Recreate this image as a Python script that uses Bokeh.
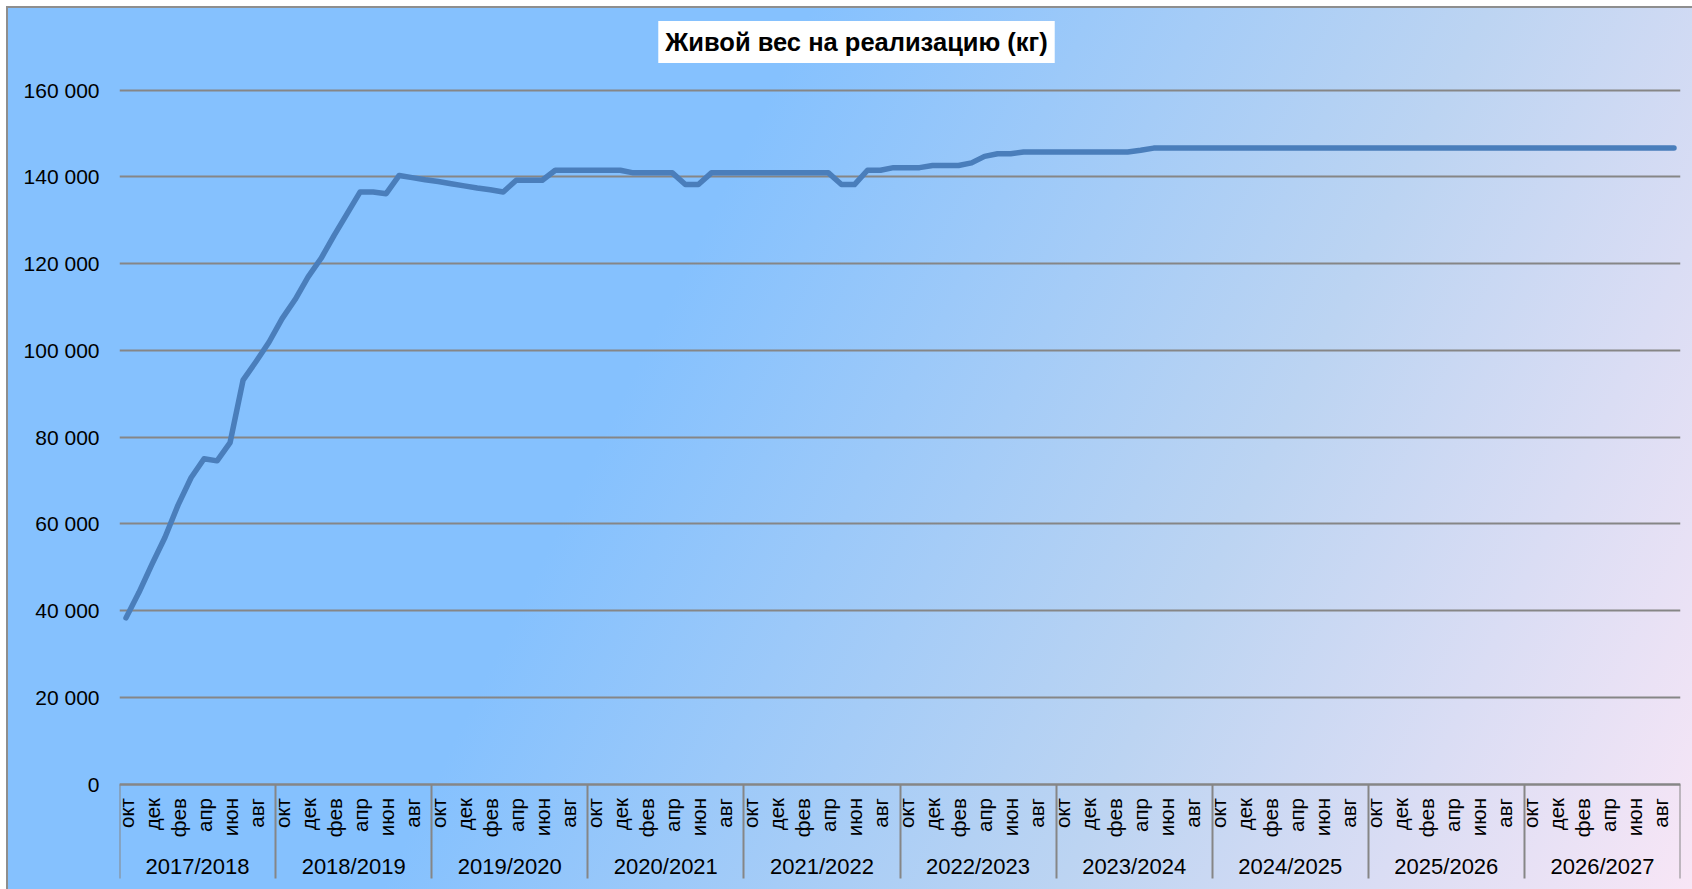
import math
from bokeh.plotting import figure
from bokeh.models import Range1d, LinearAxis, FixedTicker, Label, ColumnDataSource
from bokeh.core.properties import value
from bokeh.embed import file_html
from bokeh.resources import INLINE

title = "Живой вес на реализацию (кг)"
years = ["2017/2018", "2018/2019", "2019/2020", "2020/2021", "2021/2022",
         "2022/2023", "2023/2024", "2024/2025", "2025/2026", "2026/2027"]
months = ["окт", "ноя", "дек", "янв", "фев", "мар", "апр", "май", "июн", "июл", "авг", "сен"]

y2017 = [38300, 44200, 50700, 56900, 64300, 70600, 75000, 74500, 78700, 93100, 97400, 101900]
y2018 = [107300, 111700, 116900, 121200, 126500, 131500, 136500, 136500, 136100, 140300, 139800, 139300]
y2019 = [138900, 138400, 137900, 137400, 137000, 136500, 139200, 139200, 139200, 141500, 141500, 141500]
y2020 = [141500, 141500, 141500, 140900, 140900, 140900, 140900, 138200, 138200, 140900, 140900, 140900]
y2021 = [140900, 140900, 140900, 140900, 140900, 140900, 140900, 138200, 138200, 141500, 141500, 142100]
y2022 = [142100, 142100, 142600, 142600, 142600, 143200, 144700, 145300, 145300, 145700, 145700, 145700]
y2023 = [145700, 145700, 145700, 145700, 145700, 145700, 146100, 146600, 146600, 146600, 146600, 146600]
y2024 = [146600] * 12
y2025 = [146600] * 12
y2026 = [146600] * 12

values = y2017 + y2018 + y2019 + y2020 + y2021 + y2022 + y2023 + y2024 + y2025 + y2026
n = len(values)
xs = [i + 0.5 for i in range(n)]
y_ticks = list(range(0, 160001, 20000))
y_max = 160000

FONT = "Liberation Sans"
GRID = "#868686"

# layout in pixels (figure-relative); the frame spans the whole height
W, H = 1684, 881
top_px, zero_px = 81.5, 775.5
per_px = y_max / (zero_px - top_px)
y_lo = -(H - zero_px) * per_px
y_hi = y_max + top_px * per_px
year_axis_y = -(835.5 - zero_px) * per_px

p = figure(width=W, height=H, output_backend="svg", toolbar_location=None,
           x_range=Range1d(0, n), y_range=Range1d(y_lo, y_hi),
           x_axis_location=None, y_axis_location=None,
           min_border_left=111, min_border_right=12, min_border_top=0,
           min_border_bottom=0)
p.title.text = ""
p.outline_line_color = None
p.background_fill_alpha = 0
p.border_fill_alpha = 0
p.styles = {
    "background": "linear-gradient(116deg, #85C1FE 0%, #85C1FE 38%, #BCD4F2 70%, #F8E6F6 100%)",
    "outline": "2px solid #8E8E8E",
    "margin-left": "8px",
    "margin-top": "8px",
}

# y axis
yax = LinearAxis(ticker=FixedTicker(ticks=y_ticks),
                 major_label_overrides={v: f"{v:,}".replace(",", " ") for v in y_ticks})
yax.axis_line_color = None
yax.major_tick_line_color = None
yax.minor_tick_line_color = None
yax.major_label_standoff = 14
yax.major_label_text_font = FONT
yax.major_label_text_font_size = "21px"
yax.major_label_text_color = "black"
p.add_layout(yax, "left")

p.ygrid.ticker = FixedTicker(ticks=y_ticks)
p.ygrid.grid_line_color = GRID
p.ygrid.grid_line_width = 2
p.xgrid.grid_line_color = None

# category axis line at y = 0 with year separators
sep_ticks = list(range(0, n + 1, 12))
xax = LinearAxis(ticker=FixedTicker(ticks=[], minor_ticks=sep_ticks), fixed_location=0)
xax.axis_line_color = GRID
xax.axis_line_width = 2
xax.major_tick_line_color = None
xax.minor_tick_line_color = GRID
xax.minor_tick_line_width = 2
xax.minor_tick_in = 0
xax.minor_tick_out = 94
p.add_layout(xax, "below")

# month labels (every second month), rotated like the category axis
mx = [i + 0.5 for i in range(0, n, 2)]
mlab = [months[i % 12] for i in range(0, n, 2)]
msrc = ColumnDataSource(dict(x=mx, y=[0] * len(mx), t=mlab))
p.text(x="x", y="y", text="t", source=msrc, angle=math.pi / 2,
       text_align="right", text_baseline="middle", y_offset=14,
       text_font=value(FONT), text_font_size=value("20.5px"), text_color="black")

# year axis
year_ticks = [12 * k + 6 for k in range(len(years))]
yrax = LinearAxis(ticker=FixedTicker(ticks=year_ticks),
                  major_label_overrides={t: y for t, y in zip(year_ticks, years)},
                  fixed_location=year_axis_y)
yrax.axis_line_color = None
yrax.major_tick_line_color = None
yrax.minor_tick_line_color = None
yrax.major_label_standoff = 4
yrax.major_label_text_font = FONT
yrax.major_label_text_font_size = "22px"
yrax.major_label_text_color = "black"
p.add_layout(yrax, "below")

p.line(xs, values, line_color="#4A7EBB", line_width=5.5, line_join="round", line_cap="round")

lab = Label(x=737, y=H - 33.5, x_units="screen", y_units="screen", text=title,
            text_align="center", text_baseline="middle",
            text_font=FONT, text_font_style="bold", text_font_size="25.5px",
            text_color="black", background_fill_color="white", padding=7)
p.add_layout(lab)

open("out.html", "w").write(file_html(p, INLINE))
